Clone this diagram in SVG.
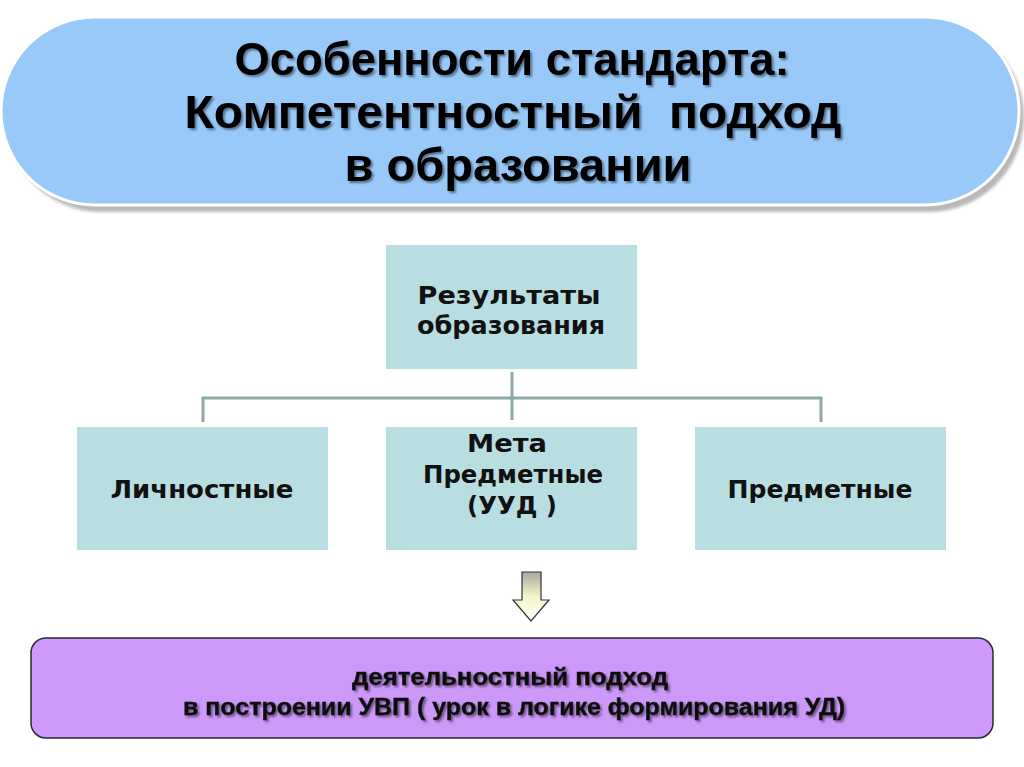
<svg xmlns="http://www.w3.org/2000/svg" width="1024" height="767" viewBox="0 0 1024 767">
<defs>
<linearGradient id="arrowGrad" x1="0" y1="0" x2="0" y2="1">
<stop offset="0" stop-color="#a8a8a0"/>
<stop offset="0.5" stop-color="#f4f6c8"/>
<stop offset="1" stop-color="#ffffff"/>
</linearGradient>
<filter id="tshadow" x="-5%" y="-20%" width="110%" height="140%">
<feDropShadow dx="2" dy="2" stdDeviation="0.8" flood-color="#000" flood-opacity="0.45"/>
</filter>
<filter id="pshadow" x="-5%" y="-10%" width="110%" height="130%">
<feGaussianBlur stdDeviation="1.5"/>
</filter>
</defs>
<style>
.title{font-family:"Liberation Sans Narrow","Liberation Sans",sans-serif;font-weight:bold;font-size:47px;fill:#000;text-anchor:middle}
.box{fill:#b8dee2}
.btxt{font-family:"DejaVu Sans",Verdana,sans-serif;font-weight:bold;font-size:24.5px;fill:#111;text-anchor:middle}
.ftxt{font-family:"Liberation Sans",Arial,sans-serif;font-weight:bold;font-size:24px;fill:#111;text-anchor:middle;stroke:#111;stroke-width:0.4}
.conn{stroke:#8ea8a8;stroke-width:3;fill:none}
</style>
<rect width="1024" height="767" fill="#ffffff"/>
<g id="title">
<rect x="6" y="22" width="1018" height="190" rx="95" fill="#b8b8b8" filter="url(#pshadow)"/>
<rect x="1" y="17" width="1018" height="188" rx="94" fill="#99c9f9" stroke="#ffffff" stroke-width="3"/>
<g filter="url(#tshadow)">
<text class="title" x="512" y="75" textLength="555" lengthAdjust="spacingAndGlyphs">Особенности стандарта:</text>
<text class="title" x="513" y="128" textLength="657" lengthAdjust="spacingAndGlyphs" xml:space="preserve">Компетентностный  подход</text>
<text class="title" x="518" y="181" textLength="347" lengthAdjust="spacingAndGlyphs">в образовании</text>
</g>
</g>
<g id="connectors">
<path class="conn" d="M512 372 V420"/>
<path class="conn" d="M203 422 V398 H821 V422"/>
</g>
<g id="results">
<rect class="box" x="386" y="245" width="251" height="124"/>
<text class="btxt" x="509" y="304" textLength="183" lengthAdjust="spacingAndGlyphs">Результаты</text>
<text class="btxt" x="511" y="334" textLength="188" lengthAdjust="spacingAndGlyphs">образования</text>
</g>
<g id="personal">
<rect class="box" x="77" y="427" width="251" height="123"/>
<text class="btxt" x="202" y="498" textLength="183" lengthAdjust="spacingAndGlyphs">Личностные</text>
</g>
<g id="meta">
<rect class="box" x="386" y="427" width="251" height="123"/>
<text class="btxt" x="507" y="452" textLength="80" lengthAdjust="spacingAndGlyphs">Мета</text>
<text class="btxt" x="513" y="483" textLength="180" lengthAdjust="spacingAndGlyphs">Предметные</text>
<text class="btxt" x="512" y="514" textLength="90" lengthAdjust="spacingAndGlyphs">(УУД )</text>
</g>
<g id="subject">
<rect class="box" x="695" y="427" width="251" height="123"/>
<text class="btxt" x="820" y="498" textLength="185" lengthAdjust="spacingAndGlyphs">Предметные</text>
</g>
<g id="arrow">
<path d="M522 572 H541 V600 H549 L531 621 L513 600 H522 Z" fill="url(#arrowGrad)" stroke="#333" stroke-width="1.2"/>
</g>
<g id="activity">
<rect x="31" y="638" width="962" height="100" rx="15" fill="#cc99fa" stroke="#2a2a2a" stroke-width="1.5"/>
<g filter="url(#tshadow)">
<text class="ftxt" x="510" y="685" textLength="316" lengthAdjust="spacingAndGlyphs">деятельностный подход</text>
<text class="ftxt" x="514" y="715" textLength="662" lengthAdjust="spacingAndGlyphs">в построении УВП ( урок в логике формирования УД)</text>
</g>
</g>
</svg>
